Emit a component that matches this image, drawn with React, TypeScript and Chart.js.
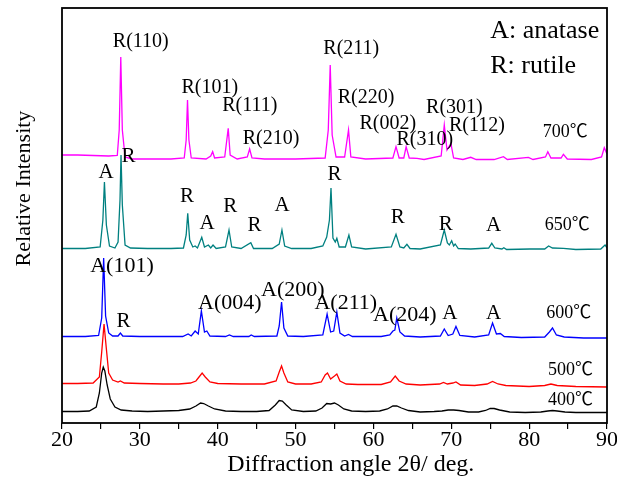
import React, { useEffect, useRef } from "react";
import { Chart, registerables } from "chart.js";

Chart.register(...registerables);

const FONT = '"Liberation Serif", "Times New Roman", "Noto Sans CJK SC", serif';

// ---- data ----
const tempLabels = ["400℃", "500℃", "600℃", "650℃", "700℃"];
const seriesColors = ["#000000", "#FF0000", "#0000FF", "#008080", "#FF00FF"];
const stackOffsets = [10, 36, 85, 173, 263];

const pattern400: [number, number][] = [
  [20, 1.5], [22, 1.5], [23.5, 2], [24.4, 6], [24.8, 20], [25.1, 40], [25.3, 46], [25.5, 42], [25.8, 28],
  [26.2, 14], [26.8, 6], [27.6, 3], [29, 2], [31, 1.5], [33, 2], [35, 2.5], [36.4, 4], [37.2, 7], [37.8, 10],
  [38.2, 9.5], [38.8, 7], [39.6, 4], [41, 2], [43, 1.5], [45, 1.5], [46.6, 2.5], [47.4, 8], [47.9, 12.5],
  [48.3, 12], [48.8, 8], [49.5, 3], [51, 1.5], [52.6, 2], [53.4, 5], [54.0, 9.5], [54.5, 9], [55.0, 10],
  [55.5, 8], [56.2, 4], [57.2, 2], [59, 1.5], [60.8, 2], [61.8, 4], [62.5, 7], [63.0, 7], [63.6, 5],
  [64.5, 2.5], [66, 1], [67.8, 1.5], [68.8, 2], [69.6, 3], [70.3, 3], [71.0, 2.5], [72.2, 1], [73.5, 1],
  [74.4, 2.5], [75.0, 4.5], [75.5, 4.5], [76.2, 3], [77.5, 1], [79.5, 0.5], [81.5, 1], [82.4, 2], [83.0, 2.5],
  [83.6, 2], [84.6, 1], [86, 0.5], [88, 0.5], [90, 0.5],
];

const pattern500: [number, number][] = [
  [20, 3.5], [22, 3.5], [24, 4], [24.8, 10], [25.1, 35], [25.4, 63], [25.7, 38], [26.0, 14], [26.5, 7],
  [27.2, 5], [27.5, 6], [28, 4], [30, 3.5], [33, 3], [35, 3], [36.5, 4], [37.2, 6], [37.6, 10], [38.0, 14],
  [38.4, 10], [39, 5], [40, 3.5], [43, 3], [46, 3], [47.5, 6], [47.9, 15], [48.2, 21], [48.5, 14], [49, 5],
  [50, 3], [52, 3], [53.3, 5], [53.8, 12], [54.1, 14], [54.5, 8], [55.0, 11], [55.3, 13], [55.7, 6],
  [56.5, 3], [58, 2.5], [61, 2.5], [62.2, 5], [62.8, 11], [63.3, 6], [64.2, 3], [66, 2], [68.5, 3],
  [69.0, 4.5], [69.5, 3], [70.2, 4], [70.6, 5], [71.2, 2], [73, 1.5], [74.6, 3], [75.3, 5.5], [76, 3],
  [77, 1.5], [80, 0.5], [82, 1.5], [82.8, 3], [83.6, 1.5], [86, 0.5], [90, 0],
];

const pattern600: [number, number][] = [
  [20, 1.5], [23, 1.5], [24.7, 2.5], [25.1, 20], [25.35, 80], [25.6, 22], [26, 5], [26.5, 2], [27.2, 2],
  [27.5, 5], [27.8, 2], [30, 1.5], [33, 1.5], [35.5, 1.5], [36.2, 4], [36.6, 2], [37.1, 7], [37.5, 4],
  [37.9, 27], [38.3, 6], [38.6, 7], [39.0, 2], [41, 1.5], [41.5, 3], [42, 1.5], [44, 1.5], [44.3, 3],
  [44.7, 1.5], [47.6, 2], [47.9, 12], [48.2, 36], [48.5, 10], [49, 2], [51, 1.5], [53.5, 3], [54.05, 24],
  [54.5, 6], [54.9, 7], [55.3, 26], [55.7, 5], [56.3, 2], [56.8, 3.5], [57.3, 1.5], [61, 1.5], [62.1, 3],
  [62.5, 7], [62.75, 8], [63.0, 20], [63.4, 6], [64, 2], [66, 1], [68.6, 2], [69.1, 9], [69.6, 2.5],
  [70.2, 4], [70.6, 11.5], [71.1, 2.5], [73, 1], [74.8, 3], [75.3, 15], [75.8, 4], [76.3, 4.5], [76.8, 1.5],
  [79, 0.5], [82, 1], [82.6, 6], [83.0, 10], [83.5, 3], [84.5, 1], [87, 0], [90, 0],
];

const pattern650: [number, number][] = [
  [20, 1.5], [23, 1.5], [24.9, 3], [25.25, 30], [25.45, 68], [25.7, 25], [26.1, 4], [26.8, 2], [27.2, 8],
  [27.45, 50], [27.58, 95], [27.75, 45], [28.1, 5], [28.8, 2], [31, 1.5], [34, 1.5], [35.6, 2], [35.95, 15],
  [36.15, 36.7], [36.4, 10], [36.8, 3], [37.1, 4], [37.4, 2], [37.95, 12.7], [38.3, 3], [38.8, 5], [39.1, 2],
  [39.4, 5], [39.8, 1.5], [41.0, 3], [41.45, 20], [41.8, 3], [43, 1.5], [44.25, 7.3], [44.6, 1.5], [47, 1.5],
  [47.9, 6], [48.25, 20], [48.6, 4], [49.5, 1.5], [52, 1.5], [53.5, 4], [54.0, 13], [54.35, 30], [54.55, 62],
  [54.8, 12], [55.1, 8], [55.3, 11.7], [55.6, 3], [56.4, 3], [56.85, 15], [57.2, 3], [59, 1], [62.3, 3],
  [62.9, 15.7], [63.4, 3], [63.9, 2], [64.3, 5.7], [64.7, 1.5], [66, 1], [68.6, 5], [69.1, 20], [69.5, 7],
  [69.75, 5], [70.05, 9.3], [70.3, 4], [70.5, 6], [70.9, 1.5], [72.5, 1], [74.8, 2], [75.2, 6.7], [75.6, 2],
  [76.5, 1], [76.75, 2.3], [77.1, 0.5], [80.1, 1], [82, 1], [82.5, 4], [83, 2], [84.4, 1.7], [86, 0.5],
  [89.2, 1], [89.75, 5], [90, 2],
];

const pattern700: [number, number][] = [
  [20, 5], [22, 5], [24, 4.5], [26, 4], [27.1, 4.5], [27.35, 30], [27.55, 103], [27.75, 30], [28.1, 3],
  [29, 1], [31, 1], [34, 1], [35.7, 2], [35.95, 20], [36.12, 60], [36.3, 20], [36.6, 2], [38.5, 1],
  [39.1, 4], [39.35, 8.3], [39.6, 2], [40.9, 3], [41.35, 31.7], [41.6, 5], [42.5, 1], [43.8, 3], [44.1, 11],
  [44.4, 2], [46, 1], [50, 1], [53.8, 2], [54.2, 30], [54.45, 95], [54.7, 25], [55.2, 3], [56.3, 3],
  [56.8, 30], [57.1, 3], [59, 1], [62.5, 2], [62.9, 13.3], [63.3, 2], [63.9, 2], [64.2, 13.3], [64.6, 2],
  [65.6, 1.7], [66.5, 0.5], [68.7, 4], [69.1, 35], [69.45, 10], [69.6, 12], [69.95, 16.7], [70.3, 2],
  [71.5, 0.5], [72.5, 2.7], [73.2, 0.5], [75.5, 0.5], [76.7, 3.3], [77.2, 0.5], [79.9, 2.7], [80.5, 0.5],
  [82.1, 3], [82.4, 8.3], [82.8, 2], [84.1, 2], [84.4, 5.7], [84.9, 1], [88, 0.5], [89.3, 3], [89.65, 12.3],
  [90, 6],
];

const patterns = [pattern400, pattern500, pattern600, pattern650, pattern700];

// annotation texts (data coordinates: angle, stacked intensity)
const annTexts = [
  "R(110)", "R(101)", "R(111)", "R(210)", "R(211)", "R(220)", "R(002)", "R(310)", "R(301)", "R(112)",
  "A", "R", "R", "A", "R", "R", "A", "R", "R", "R", "A",
  "A(101)", "R", "A(004)", "A(200)", "A(211)", "A(204)", "A", "A",
];
const annX = [
  30.12, 38.98, 44.12, 46.84, 57.16, 59.06, 61.85, 66.6, 70.4, 73.3,
  25.67, 28.55, 36.05, 38.62, 41.62, 44.72, 48.26, 55.0, 63.13, 69.29, 75.43,
  27.7, 27.9, 41.55, 49.64, 56.45, 64.03, 69.8, 75.43,
];
const annY = [
  381, 335.5, 317, 284, 374, 325.5, 299, 283.5, 315.5, 297.5,
  250.5, 266.5, 226.3, 199.7, 216.3, 198, 218, 248.5, 205.5, 198.5, 198,
  157, 101.3, 119.5, 132.5, 119.5, 108, 109.5, 109.5,
];
const annSize = [
  20, 20, 20, 20, 20, 20, 20, 20, 20, 20,
  21, 21, 21, 21, 21, 21, 21, 21, 21, 21, 21,
  22, 21, 22, 22, 22, 22, 21, 21,
];
const tempX = [85.3, 85.3, 85.1, 84.9, 84.65];
const tempY = [22.5, 53, 109.5, 198, 290.5];
const phaseTexts = ["A: anatase", "R: rutile"];
const phaseX = [75.0, 75.0];
const phaseY = [392, 356.5];

const xTitle = "Diffraction angle 2θ/ deg.";
const yTitle = "Relative Intensity";

const overlay = {
  id: "overlay",
  afterDatasetsDraw(chart: any) {
    const { ctx, chartArea, scales } = chart;
    const xs = scales.x;
    const ys = scales.y;
    ctx.save();
    ctx.strokeStyle = "#000";
    ctx.lineWidth = 1.8;
    ctx.strokeRect(chartArea.left, chartArea.top, chartArea.right - chartArea.left, chartArea.bottom - chartArea.top);
    ctx.fillStyle = "#000";
    ctx.textBaseline = "middle";
    ctx.textAlign = "center";
    for (let i = 0; i < annTexts.length; i++) {
      ctx.font = `${annSize[i]}px ${FONT}`;
      ctx.fillText(annTexts[i], xs.getPixelForValue(annX[i]), ys.getPixelForValue(annY[i]));
    }
    ctx.font = `18px ${FONT}`;
    for (let i = 0; i < tempLabels.length; i++) {
      ctx.fillText(tempLabels[i], xs.getPixelForValue(tempX[i]), ys.getPixelForValue(tempY[i]));
    }
    ctx.textAlign = "left";
    ctx.font = `26px ${FONT}`;
    for (let i = 0; i < phaseTexts.length; i++) {
      ctx.fillText(phaseTexts[i], xs.getPixelForValue(phaseX[i]), ys.getPixelForValue(phaseY[i]));
    }
    // x-axis title
    ctx.textAlign = "center";
    ctx.font = `24px ${FONT}`;
    ctx.fillText(xTitle, chartArea.left + (chartArea.right - chartArea.left) * 0.53, chartArea.bottom + 42);
    // y-axis title
    ctx.translate(24, chartArea.top + (chartArea.bottom - chartArea.top) * 0.435);
    ctx.rotate(-Math.PI / 2);
    ctx.font = `22px ${FONT}`;
    ctx.fillText(yTitle, 0, 0);
    ctx.restore();
  },
};

export default function App() {
  const ref = useRef<HTMLCanvasElement>(null);
  useEffect(() => {
    const chart = new Chart(ref.current as HTMLCanvasElement, {
      type: "line",
      data: {
        datasets: patterns.map((p, i) => ({
          label: tempLabels[i],
          data: p.map(([a, v]) => ({ x: a, y: v + stackOffsets[i] })),
          borderColor: seriesColors[i],
          backgroundColor: seriesColors[i],
          borderWidth: 1.3,
          pointRadius: 0,
          tension: 0,
          fill: false,
        })),
      },
      options: {
        animation: false,
        responsive: false,
        devicePixelRatio: 1,
        layout: { padding: { top: 8, right: 10, left: 0, bottom: 0 } },
        plugins: { legend: { display: false }, tooltip: { enabled: false } },
        scales: {
          x: {
            type: "linear",
            min: 20,
            max: 90,
            afterFit: (s: any) => { s.height = 63; },
            ticks: {
              stepSize: 5,
              autoSkip: false,
              maxRotation: 0,
              padding: -2,
              color: "#000",
              font: { family: FONT, size: 22 },
              callback: (v: any) => (Number(v) % 10 === 0 ? String(v) : ""),
            },
            grid: { drawOnChartArea: false, drawTicks: true, tickLength: 6, color: "#000", lineWidth: 1.2 },
            border: { display: false },
          },
          y: {
            type: "linear",
            min: 0,
            max: 415,
            afterFit: (s: any) => { s.width = 62; },
            ticks: { display: false },
            grid: { display: false },
            border: { display: false },
          },
        },
      },
      plugins: [overlay],
    } as any);
    return () => chart.destroy();
  }, []);
  return (
    <div style={{ position: "fixed", left: 0, top: 0, width: 617, height: 486, background: "#fff" }}>
      <canvas ref={ref} width={617} height={486} style={{ display: "block" }} />
    </div>
  );
}
